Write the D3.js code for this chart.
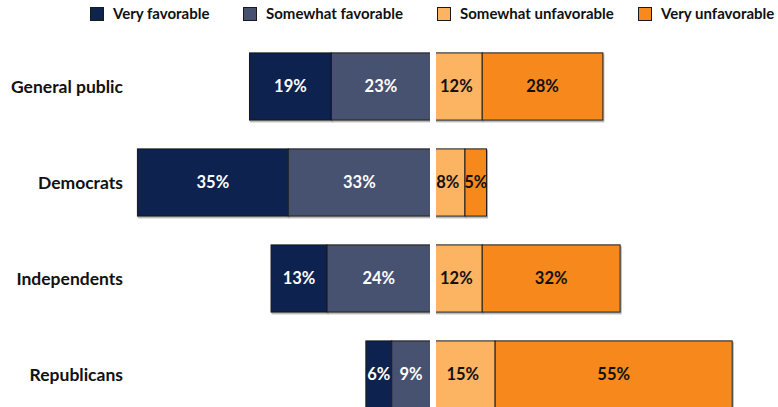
<!DOCTYPE html>
<html>
<head>
<meta charset="utf-8">
<script src="https://cdn.jsdelivr.net/npm/d3@7"></script>
<style>
  html, body { margin: 0; padding: 0; background: #fff; }
  svg { display: block; font-family: Lato, "Open Sans", sans-serif; }
</style>
</head>
<body>
<svg id="chart" width="778" height="407"></svg>
<script>
const categories = ["General public", "Democrats", "Independents", "Republicans"];
const seriesNames = ["Very favorable", "Somewhat favorable", "Somewhat unfavorable", "Very unfavorable"];
const veryFavorable = [19, 35, 13, 6];
const somewhatFavorable = [23, 33, 24, 9];
const somewhatUnfavorable = [12, 8, 12, 15];
const veryUnfavorable = [28, 5, 32, 55];
const colors = ["#0b2450", "#47516f", "#fdb462", "#f7891e"];

const svg = d3.select("#chart");

const x = d3.scaleLinear().domain([-100, 100]).range([430.5 - 431, 430.5 + 431]);
const y = d3.scaleBand().domain(categories).range([38.5, 422.5]).paddingInner(0.3).paddingOuter(0.15);

const defs = svg.append("defs");
const f = defs.append("filter").attr("id", "sh").attr("x", "-5%").attr("y", "-5%").attr("width", "110%").attr("height", "120%");
f.append("feDropShadow").attr("dx", 1).attr("dy", 1.5).attr("stdDeviation", 0.6).attr("flood-color", "#888").attr("flood-opacity", 0.7);

const segs = [];
categories.forEach((c, i) => {
  const vf = veryFavorable[i], sf = somewhatFavorable[i];
  const su = somewhatUnfavorable[i], vu = veryUnfavorable[i];
  segs.push({cat: c, s: 0, a: -(vf + sf), b: -sf, v: vf});
  segs.push({cat: c, s: 1, a: -sf, b: 0, v: sf});
  segs.push({cat: c, s: 2, a: 0, b: su, v: su});
  segs.push({cat: c, s: 3, a: su, b: su + vu, v: vu});
});

const g = svg.append("g");
g.selectAll("rect.seg").data(segs).join("rect")
  .attr("class", "seg")
  .attr("x", d => x(d.a))
  .attr("y", d => y(d.cat))
  .attr("width", d => x(d.b) - x(d.a))
  .attr("height", y.bandwidth())
  .attr("fill", d => colors[d.s])
  .attr("stroke", "#1a1a1a")
  .attr("stroke-width", 1)
  .attr("filter", "url(#sh)");

categories.forEach(c => {
  g.append("rect")
    .attr("x", x(0) - 0.5)
    .attr("y", y(c) - 2)
    .attr("width", 6)
    .attr("height", y.bandwidth() + 5)
    .attr("fill", "#fff");
});

g.selectAll("text.val").data(segs).join("text")
  .attr("class", "val")
  .attr("x", d => (x(d.a) + x(d.b)) / 2)
  .attr("y", d => y(d.cat) + y.bandwidth() / 2)
  .attr("dy", "0.36em")
  .attr("text-anchor", "middle")
  .attr("font-size", 16.5)
  .attr("font-weight", 700)
  .attr("fill", d => d.s < 2 ? "#fff" : "#111")
  .text(d => d.v + "%");

svg.selectAll("text.cat").data(categories).join("text")
  .attr("class", "cat")
  .attr("x", 123)
  .attr("y", d => y(d) + y.bandwidth() / 2)
  .attr("dy", "0.36em")
  .attr("text-anchor", "end")
  .attr("font-size", 17.5)
  .attr("font-weight", 700)
  .attr("fill", "#111")
  .text(d => d);

const legX = [90, 243, 437, 638];
const leg = svg.selectAll("g.leg").data(seriesNames).join("g")
  .attr("class", "leg")
  .attr("transform", (d, i) => `translate(${legX[i]},0)`);
leg.append("rect")
  .attr("x", 0.5).attr("y", 7.5).attr("width", 13).attr("height", 13)
  .attr("fill", (d, i) => colors[i])
  .attr("stroke", "#1a1a1a").attr("stroke-width", 1);
leg.append("text")
  .attr("x", 23).attr("y", 14).attr("dy", "0.36em")
  .attr("font-size", 15).attr("font-weight", 700).attr("fill", "#111")
  .text(d => d);
</script>
</body>
</html>
